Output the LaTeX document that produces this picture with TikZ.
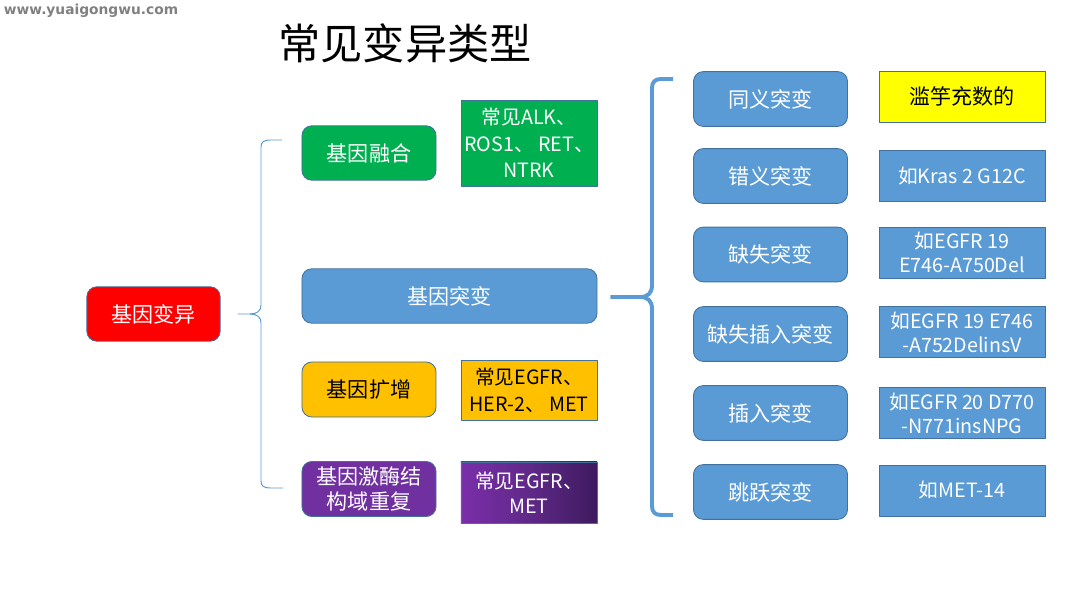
\documentclass[tikz,border=0pt]{standalone}
\usepackage{fontspec}
\setmainfont{Noto Sans CJK SC}
\newfontfamily\wmfont{DejaVu Sans}
\usetikzlibrary{calc}

\definecolor{rosso}{RGB}{255,0,0}
\definecolor{verde}{RGB}{0,176,80}
\definecolor{azzurro}{RGB}{91,155,213}
\definecolor{arancio}{RGB}{255,192,0}
\definecolor{viola}{RGB}{112,48,160}
\definecolor{giallo}{RGB}{255,255,0}
\definecolor{bordo}{RGB}{65,113,156}
\definecolor{violaA}{RGB}{122,46,170}
\definecolor{violaB}{RGB}{62,26,94}

\tikzset{
  roundbox/.style={draw=bordo, line width=0.6pt, rounded corners=7pt, inner sep=0pt,
    minimum width=3.35cm, minimum height=1.36cm, text=white, align=center,
    font=\fontsize{15}{18}\selectfont},
  notebox/.style={draw=bordo, line width=0.6pt, inner sep=0pt, minimum width=3.4cm,
    text=white, align=center, font=\fontsize{14}{19}\selectfont},
  tipobox/.style={roundbox, fill=azzurro, minimum width=3.85cm, minimum height=1.37cm},
  esempio/.style={notebox, fill=azzurro, minimum width=4.15cm, minimum height=1.275cm,
    font=\fontsize{14}{17}\selectfont},
  lbrace/.style={draw=azzurro, line width=0.7pt},
  rbrace/.style={draw=azzurro, line width=2.8pt}
}

\begin{document}
\begin{tikzpicture}[x=0.025cm, y=-0.025cm, line join=round]
    \useasboundingbox (0,0) rectangle (1080,598);

    % Filigrana e titolo
    \node[text=black!50, font=\wmfont\bfseries\fontsize{9.8}{11}\selectfont] (wm) at (91,11) {www.yuaigongwu.com};
    \node[font=\fontsize{30}{34}\selectfont] (titolo) at (405,43) {常见变异类型};

    % Radice
    \node[roundbox, fill=rosso, minimum width=3.33cm] (bianyi) at (153.5,314) {基因变异};

    % Colonna centrale
    \node[roundbox, fill=verde] (ronghe) at (369,153) {基因融合};
    \node[roundbox, fill=azzurro, minimum width=7.375cm] (tubian) at (449.5,296) {基因突变};
    \node[roundbox, fill=arancio, text=black, minimum height=1.375cm] (kuozeng) at (369,389.5) {基因扩增};
    \node[roundbox, fill=viola, minimum height=1.375cm] (jimei) at (369,489) {基因激酶结\\构域重复};

    % Note accanto
    \node[notebox, fill=verde, minimum height=2.15cm] (ronghe-nota) at (529,143) {常见ALK、\\ROS1、 RET、\\NTRK};
    \node[notebox, fill=arancio, text=black, minimum height=1.5cm] (kuozeng-nota) at (529,390) {常见EGFR、\\HER-2、 MET};
    \node[notebox, left color=violaA, right color=violaB, middle color=viola!85!black,
          minimum height=1.525cm, font=\fontsize{14}{18}\selectfont] (jimei-nota) at (529,492.5) {常见EGFR、\\MET};

    % Tipi di mutazione
    \node[tipobox] (tongyi) at (770.5,99) {同义突变};
    \node[tipobox] (cuoyi) at (770.5,176) {错义突变};
    \node[tipobox] (queshi) at (770.5,254.5) {缺失突变};
    \node[tipobox] (qscr) at (770.5,334) {缺失插入突变};
    \node[tipobox] (charu) at (770.5,413) {插入突变};
    \node[tipobox] (tiaoyue) at (770.5,492) {跳跃突变};

    % Esempi
    \node[esempio, fill=giallo, text=black, font=\fontsize{15}{17}\selectfont] (es1) at (962,96.5) {滥竽充数的};
    \node[esempio] (es2) at (962,176) {如Kras 2 G12C};
    \node[esempio] (es3) at (962,252.5) {如EGFR 19\\E746-A750Del};
    \node[esempio] (es4) at (962,332) {如EGFR 19 E746\\-A752DelinsV};
    \node[esempio] (es5) at (962,413) {如EGFR 20 D770\\-N771insNPG};
    \node[esempio] (es6) at (962,490.5) {如MET-14};

    % Graffa sinistra
    \coordinate (l-punta) at (250,314);
    \coordinate (l-su) at (282,140);
    \coordinate (l-giu) at (283,488);
    \draw[lbrace] ($(bianyi.east)+(17,0)$) -- (l-punta) .. controls (257,314) and (261,311) .. (261,305)
        -- (261,147) .. controls (261,142) and (264,140) .. (270,140) -- (l-su);
    \draw[lbrace] (l-punta) .. controls (257,314) and (261,317) .. (261,323)
        -- (261,481) .. controls (261,486) and (264,488) .. (270,488) -- (l-giu);

    % Graffa destra
    \coordinate (r-punta) at (640,297);
    \coordinate (r-su) at (673,79);
    \coordinate (r-giu) at (673,515);
    \draw[rbrace] ($(tubian.east)+(13,1)$) -- (r-punta) .. controls (648,297) and (652,293) .. (652,285)
        -- (652,88) .. controls (652,82) and (655,79) .. (661,79) -- (r-su);
    \draw[rbrace] (r-punta) .. controls (648,297) and (652,301) .. (652,309)
        -- (652,506) .. controls (652,512) and (655,515) .. (661,515) -- (r-giu);
\end{tikzpicture}
\end{document}
